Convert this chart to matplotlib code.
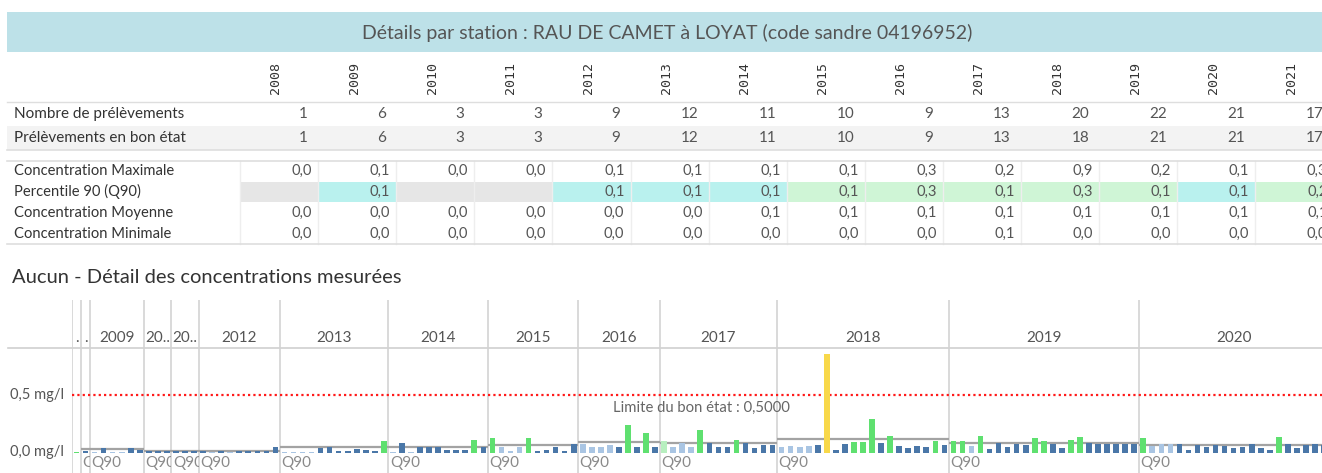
import numpy as np
import matplotlib
matplotlib.use("Agg")
from matplotlib import pyplot as plt
from matplotlib.patches import Rectangle

plt.rcParams['font.family'] = ['Lato', 'DejaVu Sans']

# ---- table data ----
title = "Détails par station : RAU DE CAMET à LOYAT (code sandre 04196952)"
years = [2008, 2009, 2010, 2011, 2012, 2013, 2014, 2015, 2016, 2017, 2018, 2019, 2020, 2021]
nb_prel = [1, 6, 3, 3, 9, 12, 11, 10, 9, 13, 20, 22, 21, 17]
nb_bon = [1, 6, 3, 3, 9, 12, 11, 10, 9, 13, 18, 21, 21, 17]
c_max = [0.0, 0.1, 0.0, 0.0, 0.1, 0.1, 0.1, 0.1, 0.3, 0.2, 0.9, 0.2, 0.1, 0.3]
c_q90 = [None, 0.1, None, None, 0.1, 0.1, 0.1, 0.1, 0.3, 0.1, 0.3, 0.1, 0.1, 0.2]
q90_class = ['na', 'b', 'na', 'na', 'b', 'b', 'b', 'g', 'g', 'g', 'g', 'g', 'b', 'g']
c_moy = [0.0, 0.0, 0.0, 0.0, 0.0, 0.0, 0.1, 0.1, 0.1, 0.1, 0.1, 0.1, 0.1, 0.1]
c_min = [0.0, 0.0, 0.0, 0.0, 0.0, 0.0, 0.0, 0.0, 0.0, 0.1, 0.0, 0.0, 0.0, 0.0]

# ---- chart data (mg/l) ----
panel_labels = ['.', '.', '2009', '20..', '20..', '2012', '2013', '2014',
                '2015', '2016', '2017', '2018', '2019', '2020']
panel_q90 = [None, 0.035, 0.035, 0.02, 0.02, 0.02, 0.05, 0.05,
             0.065, 0.095, 0.085, 0.125, 0.085, 0.07]
v_a = [0.006]
v_b = [0.02]
v_2009 = [0.01, 0.04, 0.01, 0.01, 0.045, 0.025]
v_2010 = [0.02, 0.02, 0.02]
v_2011 = [0.02, 0.02, 0.02]
v_2012 = [0.02, 0.01, 0.015, 0.01, 0.015, 0.02, 0.02, 0.02, 0.05]
v_2013 = [0.01, 0.01, 0.01, 0.01, 0.04, 0.05, 0.015, 0.02, 0.035, 0.03, 0.02, 0.105]
v_2014 = [0.01, 0.085, 0.01, 0.055, 0.05, 0.05, 0.03, 0.025, 0.025, 0.11, 0.05]
v_2015 = [0.13, 0.05, 0.015, 0.05, 0.13, 0.02, 0.025, 0.05, 0.02, 0.075]
v_2016 = [0.08, 0.05, 0.05, 0.07, 0.05, 0.245, 0.055, 0.17, 0.05]
v_2017 = [0.1, 0.055, 0.085, 0.05, 0.2, 0.09, 0.055, 0.055, 0.11, 0.09, 0.045, 0.07, 0.065]
v_2018 = [0.05, 0.06, 0.05, 0.06, 0.07, 0.855, 0.03, 0.08, 0.095, 0.095, 0.29, 0.09,
          0.15, 0.06, 0.04, 0.06, 0.05, 0.1, 0.07]
v_2019 = [0.1, 0.105, 0.06, 0.15, 0.035, 0.085, 0.055, 0.08, 0.07, 0.13, 0.105, 0.08,
          0.045, 0.11, 0.14, 0.09, 0.08, 0.08, 0.08, 0.08, 0.08]
v_2020 = [0.13, 0.06, 0.08, 0.075, 0.08, 0.03, 0.07, 0.05, 0.07, 0.06, 0.045, 0.05,
          0.08, 0.045, 0.03, 0.14, 0.075, 0.045, 0.065, 0.08, 0.07]
# d: dark blue, l: light blue, g: green, p: pale green, y: yellow
k_a = 'g'
k_b = 'd'
k_2009 = 'ldlldd'
k_2010 = 'ddd'
k_2011 = 'ddd'
k_2012 = 'dldlddddd'
k_2013 = 'lllldddddddg'
k_2014 = 'ldldddddddgd'[:9] + 'gd'
k_2015 = 'glllgddddd'
k_2016 = 'lllldgdgd'
k_2017 = 'plllgdddgdddd'
k_2018 = 'llllddddgggdgddddgd'[:5] + 'yd' + 'dgggdgddddgd'
k_2019 = 'gglgdddddggddggdddddd'
k_2020 = 'gllldddddddddddgddddd'

panel_vals = [v_a, v_b, v_2009, v_2010, v_2011, v_2012, v_2013, v_2014,
              v_2015, v_2016, v_2017, v_2018, v_2019, v_2020]
panel_kinds = [k_a, k_b, k_2009, k_2010, k_2011, k_2012, k_2013, k_2014,
               k_2015, k_2016, k_2017, k_2018, k_2019, k_2020]
colmap = {'d': '#4a77a8', 'l': '#a9c5e3', 'g': '#5fe070', 'p': '#b7efbf', 'y': '#f8d84a'}


def fmt(v):
    return "{:.1f}".format(v).replace('.', ',')


W, H = 1322, 473
fig = plt.figure(figsize=(W / 100, H / 100), dpi=100)
ax0 = fig.add_axes([0, 0, 1, 1])
ax0.set_xlim(0, W)
ax0.set_ylim(H, 0)
ax0.axis('off')

# title band
ax0.add_patch(Rectangle((7, 12), W - 7, 40, color='#bde1e8', lw=0))
ax0.text(667, 33, title, ha='center', va='center', fontsize=14, color='#555555')

# column headers
col_w = 78.1
for i, yr in enumerate(years):
    x0 = 240 + col_w * i
    ax0.text(x0 + 36, 78, str(yr), rotation=90, ha='center', va='center',
             fontsize=9.5, color='#333333', family='DejaVu Sans Mono')

# counts table
ax0.add_patch(Rectangle((7, 126), W - 7, 24, color='#f3f3f3', lw=0))
ax0.plot([7, W], [102, 102], color='#dedede', lw=1)
ax0.plot([7, W], [150, 150], color='#dedede', lw=1.2)
ax0.text(14, 114, "Nombre de prélèvements", va='center', fontsize=11, color='#333333')
ax0.text(14, 138, "Prélèvements en bon état", va='center', fontsize=11, color='#333333')
for i in range(len(years)):
    xr = 240 + col_w * (i + 1) - 10
    ax0.text(xr, 114, str(nb_prel[i]), ha='right', va='center', fontsize=11, color='#555555')
    ax0.text(xr, 138, str(nb_bon[i]), ha='right', va='center', fontsize=11, color='#555555')

# concentration table
q90_colors = {'na': '#e6e6e6', 'b': '#b9f1ee', 'g': '#cff5d6'}
rows_y = [171, 191.5, 213, 234]
row_names = ["Concentration Maximale", "Percentile 90 (Q90)",
             "Concentration Moyenne", "Concentration Minimale"]
for i in range(len(years)):
    x0 = 240 + col_w * i
    ax0.add_patch(Rectangle((x0, 182), col_w, 19.5, color=q90_colors[q90_class[i]], lw=0))
    ax0.plot([x0, x0], [161, 244], color='#eeeeee', lw=1)
ax0.plot([7, W], [161, 161], color='#dedede', lw=1.2)
ax0.plot([7, W], [244, 244], color='#dedede', lw=1.2)
for name, yy in zip(row_names, rows_y):
    ax0.text(14, yy, name, va='center', fontsize=10.6, color='#333333')
for i in range(len(years)):
    xr = 240 + col_w * (i + 1) - 6
    ax0.text(xr, rows_y[0], fmt(c_max[i]), ha='right', va='center', fontsize=10.6, color='#555555')
    if c_q90[i] is not None:
        ax0.text(xr, rows_y[1], fmt(c_q90[i]), ha='right', va='center', fontsize=10.6, color='#555555')
    ax0.text(xr, rows_y[2], fmt(c_moy[i]), ha='right', va='center', fontsize=10.6, color='#555555')
    ax0.text(xr, rows_y[3], fmt(c_min[i]), ha='right', va='center', fontsize=10.6, color='#555555')

# subtitle and y labels
ax0.text(12, 277, "Aucun - Détail des concentrations mesurées", va='center',
         fontsize=14.5, color='#333333')
ax0.text(64, 395, "0,5 mg/l", ha='right', va='center', fontsize=10.5, color='#555555')
ax0.text(64, 452, "0,0 mg/l", ha='right', va='center', fontsize=10.5, color='#555555')
ax0.plot([8, W], [348, 348], color='#d0d0d0', lw=1.2)

# ---- bar chart ----
n_total = sum(len(v) for v in panel_vals)
axc = fig.add_axes([72 / W, 0, (n_total * 9.04) / W, 173 / H])
axc.set_xlim(0, n_total)
axc.set_ylim(-20 / 116, 153 / 116)
axc.axis('off')

axc.axhline(0.5, color='#ff1a1a', ls=(0, (1, 1.4)), lw=1.6, zorder=1)
start = 0
for lab, q, vals, kinds in zip(panel_labels, panel_q90, panel_vals, panel_kinds):
    n = len(vals)
    axc.axvline(start, color='#d3d3d3', lw=1.2, zorder=0)
    axc.text(start + n / 2, 0.99, lab, ha='center', va='center', fontsize=11,
             color='#555555')
    x = start + 0.5 + np.arange(n)
    axc.bar(x, vals, width=0.62, color=[colmap[k] for k in kinds], zorder=3)
    if q is not None:
        axc.hlines(q, start, start + n, color='#a3a3a3', lw=1.6, zorder=2)
        clip = Rectangle((start, -1), n, 3, transform=axc.transData)
        t = axc.text(start + 0.15, -0.09, "Q90", ha='left', va='center', fontsize=11,
                     color='#8a8a8a', zorder=4, clip_on=True)
        t.set_clip_path(clip)
    start += n

axc.text(69.6, 0.386, "Limite du bon état : 0,5000", ha='center', va='center',
         fontsize=10.7, color='#666666', zorder=4)

fig.savefig('out.png', dpi=100)
